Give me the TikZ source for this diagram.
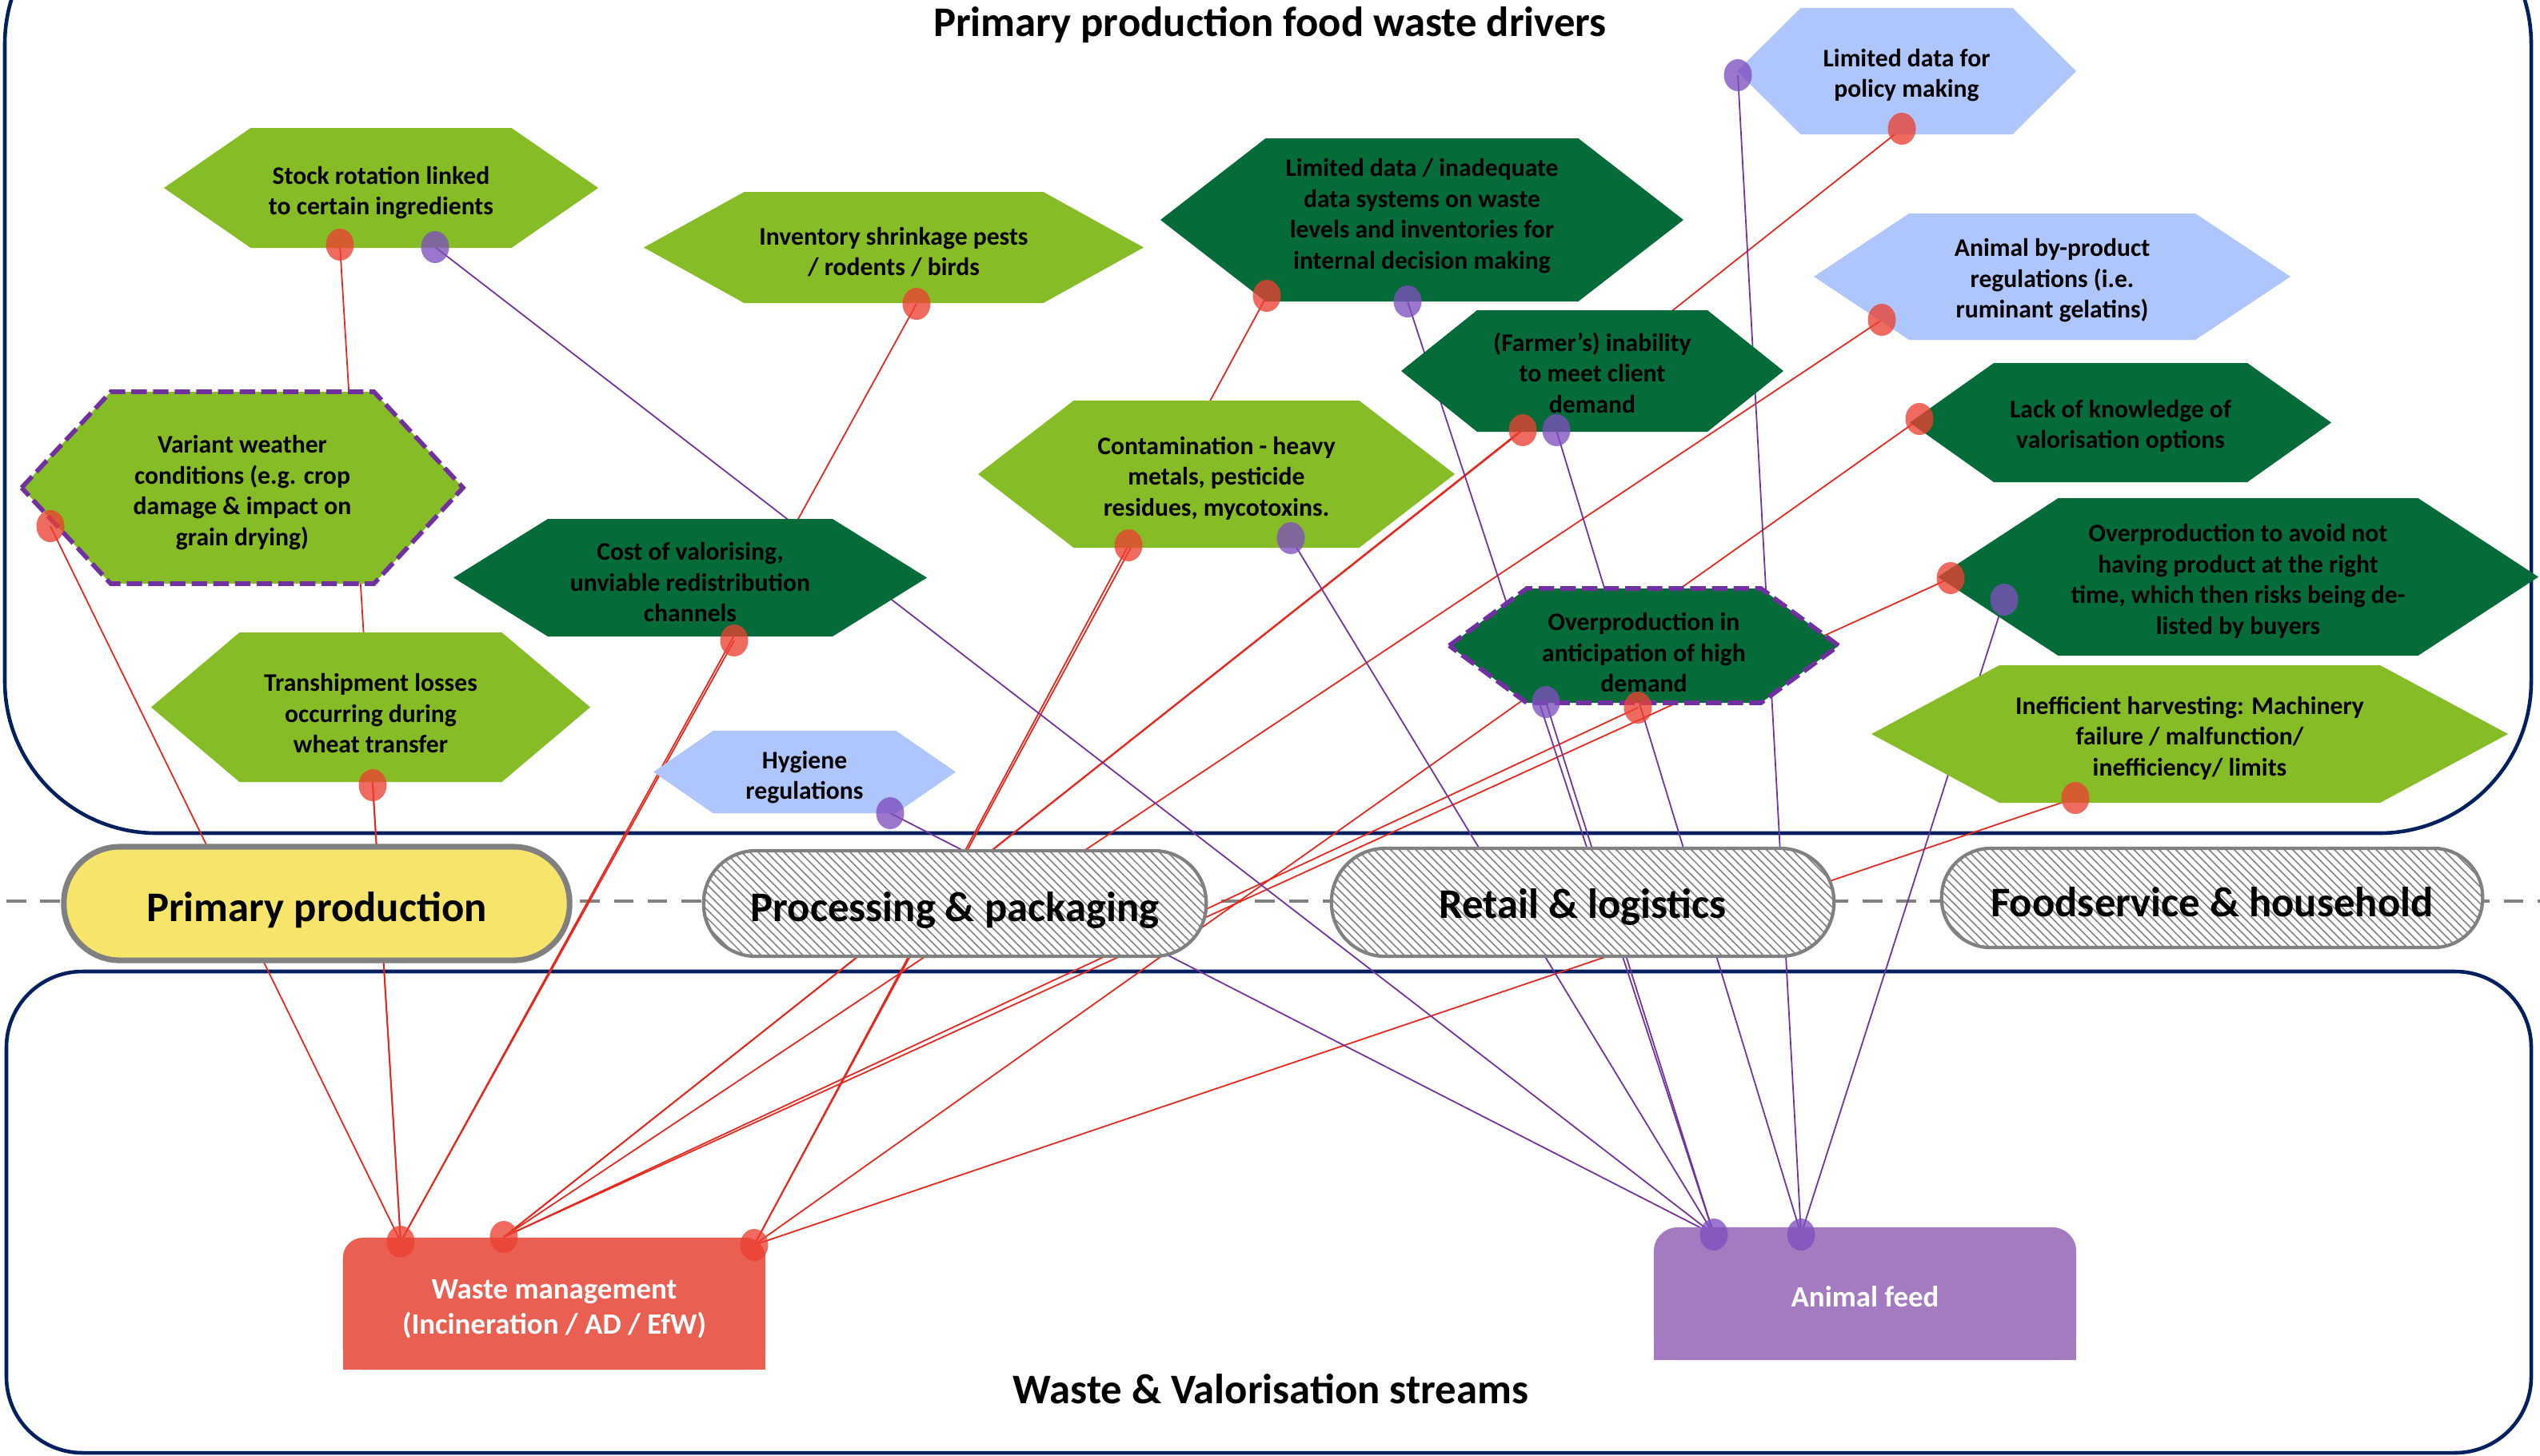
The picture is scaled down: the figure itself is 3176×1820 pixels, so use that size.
\documentclass[tikz,border=0pt]{standalone}
\usepackage{fontspec}
\setmainfont{Carlito}
\usetikzlibrary{patterns.meta,shapes.geometric}

\definecolor{leaf}{HTML}{86BC25}
\definecolor{forest}{HTML}{056B39}
\definecolor{sky}{HTML}{AEC6FB}
\definecolor{navy}{HTML}{002060}
\definecolor{amber}{HTML}{F7E46B}
\definecolor{rim}{HTML}{808080}
\definecolor{violet}{HTML}{7030A0}
\definecolor{linkred}{HTML}{E8251B}
\definecolor{linkpurple}{HTML}{7030A0}
\definecolor{dotred}{HTML}{EB4132}
\definecolor{dotpurple}{HTML}{7E50BE}
\definecolor{wastefill}{HTML}{E95F52}
\definecolor{feedfill}{HTML}{A47BC1}

\pgfdeclarelayer{back}
\pgfdeclarelayer{links}
\pgfsetlayers{back,links,main}

\newcommand\drvfont{\fontsize{9}{10.95}\selectfont\bfseries}
\newcommand\lanefont{\fontsize{15}{18}\selectfont\bfseries}
\newcommand\headfont{\fontsize{15}{18}\selectfont\bfseries}
\newcommand\boxfont{\fontsize{10.5}{12.6}\selectfont\bfseries}

% hexagonal driver: name, cx, cy, half width to side points, half width of flat edges,
% half height, fill style, text centre y, text
\newcommand\driver[9]{%
  \path[#7] (#2-#4,#3) -- (#2-#5,#3-#6) -- (#2+#5,#3-#6) -- (#2+#4,#3)
    -- (#2+#5,#3+#6) -- (#2-#5,#3+#6) -- cycle;
  \node[drivertext] (#1) at (#2,#8) {#9};
}

\begin{document}
\begin{tikzpicture}[x=0.01cm, y=-0.01cm,
  drivertext/.style={align=center, inner sep=0pt, font=\drvfont, text=black},
  leafhex/.style={fill=leaf},
  foresthex/.style={fill=forest},
  skyhex/.style={fill=sky},
  dashedrim/.style={draw=violet, line width=1.6pt, dash pattern=on 5.5pt off 2.2pt, line join=miter},
  frame/.style={draw=navy, line width=1.3pt},
  stage/.style={draw=rim, line width=1.2pt, inner sep=0pt,
    preaction={fill=white},
    pattern={Lines[angle=-45, distance=2.1pt, line width=0.45pt]}, pattern color=rim},
  lanelabel/.style={anchor=base, font=\lanefont, inner sep=0pt},
  headline/.style={anchor=base, font=\headfont, inner sep=0pt},
  boxtext/.style={align=center, font=\boxfont, text=white, inner sep=0pt},
  rdot/.style={ellipse, fill=dotred, fill opacity=0.78, inner sep=0pt, minimum width=0.35cm, minimum height=0.40cm},
  pdot/.style={ellipse, fill=dotpurple, fill opacity=0.78, inner sep=0pt, minimum width=0.35cm, minimum height=0.40cm},
  redlink/.style={draw=linkred, line width=0.5pt},
  purplelink/.style={draw=linkpurple, line width=0.5pt}
]
\useasboundingbox (0,0) rectangle (3176,1820);
\clip (0,0) rectangle (3176,1820);

% ---------- frames and the stage axis ----------
\begin{pgfonlayer}{back}
  \fill[white] (0,0) rectangle (3176,1820);
  \draw[frame, rounded corners=1.9cm] (6,-135) rectangle (3165,1042);
  \draw[frame, rounded corners=0.95cm] (8,1215) rectangle (3165,1817);
  \draw[draw=rim, line width=1.3pt, dash pattern=on 7pt off 5pt] (8,1127) -- (3176,1127);
\end{pgfonlayer}

\node[headline] (drivertitle) at (1588,45) {Primary production food waste drivers};
\node[headline] (streamtitle) at (1589,1755) {Waste \& Valorisation streams};

% ---------- drivers ----------
\driver{stock}{476.5}{235}{271.5}{163}{75}{leafhex}{241}{Stock rotation linked\\to certain ingredients}
\driver{shrink}{1117.5}{309.5}{312.5}{187}{69.5}{leafhex}{315}{Inventory shrinkage pests\\/ rodents / birds}
\driver{inhouse}{1778}{275}{327}{195.5}{102}{foresthex}{270}{Limited data / inadequate\\data systems on waste\\levels and inventories for\\internal decision making}
\driver{farmer}{1991}{464}{239}{144}{76}{foresthex}{466}{(Farmer’s) inability\\to meet client\\demand}
\driver{policy}{2384}{89}{212}{132.5}{79}{skyhex}{94}{Limited data for\\policy making}
\driver{byprod}{2566}{346}{298}{179}{79}{skyhex}{351}{Animal by-product\\regulations (i.e.\\ruminant gelatins)}
\driver{know}{2651.5}{528.5}{263.5}{158.5}{74.5}{foresthex}{533}{Lack of knowledge of\\valorisation options}
\driver{avoid}{2798.5}{721.5}{375.5}{225}{98.5}{foresthex}{727}{Overproduction to avoid not\\having product at the right\\time, which then risks being de-\\listed by buyers}
\driver{harvest}{2738}{918}{398}{238}{86}{leafhex}{923}{Inefficient harvesting: Machinery\\failure / malfunction/\\inefficiency/ limits}
\driver{anticip}{2055.5}{807.5}{243.5}{146.5}{71.5}{foresthex,dashedrim}{816}{Overproduction in\\anticipation of high\\demand}
\driver{contam}{1521}{593}{298}{178.5}{92}{leafhex}{598}{Contamination - heavy\\metals, pesticide\\residues, mycotoxins.}
\driver{valor}{863}{722.5}{296}{178}{73.5}{foresthex}{728}{Cost of valorising,\\unviable redistribution\\channels}
\driver{weather}{303}{610}{276}{164.5}{120}{leafhex,dashedrim}{616}{Variant weather\\conditions (e.g. crop\\damage \& impact on\\grain drying)}
\driver{tranship}{463.5}{884.5}{274.5}{164}{93.5}{leafhex}{892}{Transhipment losses\\occurring during\\wheat transfer}
\driver{hygiene}{1006}{965.5}{189}{114.5}{51.5}{skyhex}{972}{Hygiene\\regulations}

% ---------- supply chain stages ----------
\node[draw=rim, line width=2pt, fill=amber, inner sep=0pt, minimum width=6.32cm, minimum height=1.42cm, rounded corners=0.70cm] (primary) at (396,1130) {};
\node[stage, minimum width=6.28cm, minimum height=1.32cm, rounded corners=0.65cm] (processing) at (1194,1130) {};
\node[stage, minimum width=6.28cm, minimum height=1.35cm, rounded corners=0.67cm] (retail) at (1979,1128.5) {};
\node[stage, minimum width=6.76cm, minimum height=1.24cm, rounded corners=0.61cm] (foodservice) at (2766,1123) {};
\node[lanelabel] (primarylabel) at (396,1152) {Primary production};
\node[lanelabel] (processinglabel) at (1194,1152) {Processing \& packaging};
\node[lanelabel] (retaillabel) at (1979,1148) {Retail \& logistics};
\node[lanelabel] (foodservicelabel) at (2766,1146) {Foodservice \& household};

% ---------- destination streams ----------
\fill[wastefill] (429,1630) rectangle (957,1713);
\node[fill=wastefill, inner sep=0pt, minimum width=5.28cm, minimum height=1.65cm, rounded corners=0.25cm] (waste) at (693,1630.5) {};
\node[boxtext] (wastelabel) at (693,1637) {Waste management\\(Incineration / AD / EfW)};
\fill[feedfill] (2068,1618) rectangle (2596,1701);
\node[fill=feedfill, inner sep=0pt, minimum width=5.28cm, minimum height=1.66cm, rounded corners=0.3cm] (feed) at (2332,1618) {};
\node[boxtext] (feedlabel) at (2332,1622) {Animal feed};

% ---------- link end points ----------
\node[rdot] (stockR) at (425,306) {};
\node[pdot] (stockP) at (544,309) {};
\node[rdot] (shrinkR) at (1146,380) {};
\node[rdot] (inhouseR) at (1584,370) {};
\node[pdot] (inhouseP) at (1760,377) {};
\node[pdot] (policyP) at (2173,94) {};
\node[rdot] (policyR) at (2378,161) {};
\node[rdot] (byprodR) at (2353,400) {};
\node[rdot] (farmerR) at (1904,538) {};
\node[pdot] (farmerP) at (1946,538) {};
\node[rdot] (knowR) at (2400,524) {};
\node[rdot] (weatherR) at (63,658) {};
\node[rdot] (valorR) at (918,801) {};
\node[rdot] (contamR) at (1411,682) {};
\node[pdot] (contamP) at (1614,673) {};
\node[pdot] (anticipP) at (1933,878) {};
\node[rdot] (anticipR) at (2048,885) {};
\node[rdot] (avoidR) at (2439,723) {};
\node[pdot] (avoidP) at (2506,750) {};
\node[rdot] (harvestR) at (2595,998) {};
\node[rdot] (transhipR) at (466,982) {};
\node[pdot] (hygieneP) at (1113,1017) {};
\node[rdot] (wasteA) at (501,1553) {};
\node[rdot] (wasteB) at (630,1547) {};
\node[rdot] (wasteC) at (943,1557) {};
\node[pdot] (feedD) at (2143,1544) {};
\node[pdot] (feedE) at (2252,1544) {};

% ---------- links from drivers to streams ----------
\begin{pgfonlayer}{links}
  \draw[redlink] (weatherR.center) -- (wasteA.center);
  \draw[redlink] (stockR.center) -- (wasteA.center);
  \draw[redlink] (transhipR.center) -- (wasteA.center);
  \draw[redlink] (shrinkR.center) -- (wasteA.center);
  \draw[redlink] (valorR.center) -- (wasteA.center);
  \draw[redlink] (policyR.center) -- (wasteB.center);
  \draw[redlink] (farmerR.center) -- (wasteB.center);
  \draw[redlink] (byprodR.center) -- (wasteB.center);
  \draw[redlink] (avoidR.center) -- (wasteB.center);
  \draw[redlink] (anticipR.center) -- (wasteB.center);
  \draw[redlink] (inhouseR.center) -- (wasteC.center);
  \draw[redlink] (contamR.center) -- (wasteC.center);
  \draw[redlink] (knowR.center) -- (wasteC.center);
  \draw[redlink] (harvestR.center) -- (wasteC.center);
  \draw[purplelink] (stockP.center) -- (feedD.center);
  \draw[purplelink] (hygieneP.center) -- (feedD.center);
  \draw[purplelink] (contamP.center) -- (feedD.center);
  \draw[purplelink] (inhouseP.center) -- (feedD.center);
  \draw[purplelink] (anticipP.center) -- (feedD.center);
  \draw[purplelink] (farmerP.center) -- (feedE.center);
  \draw[purplelink] (policyP.center) -- (feedE.center);
  \draw[purplelink] (avoidP.center) -- (feedE.center);
\end{pgfonlayer}
\end{tikzpicture}
\end{document}
